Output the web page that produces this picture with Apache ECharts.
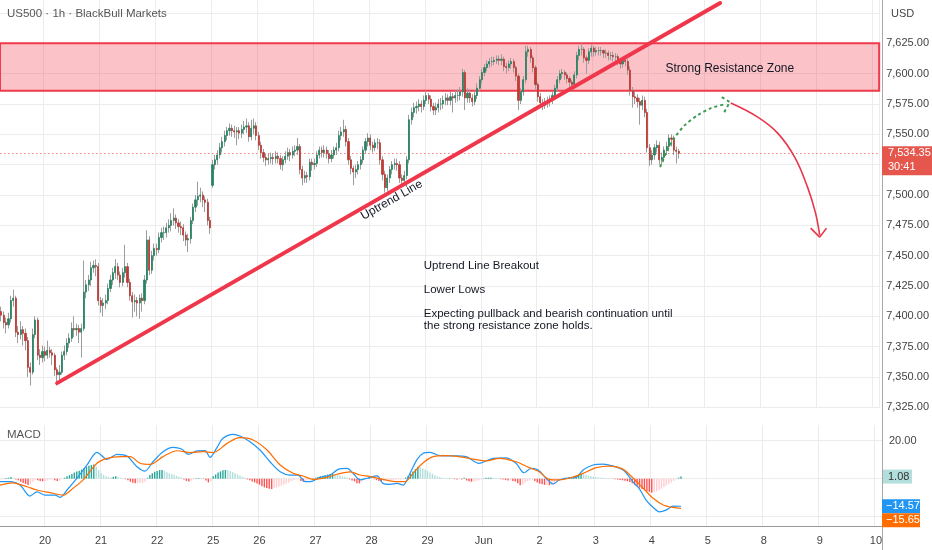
<!DOCTYPE html>
<html><head><meta charset="utf-8">
<script src="https://cdn.jsdelivr.net/npm/echarts@6/dist/echarts.min.js"></script>
<style>html,body{margin:0;padding:0;background:#fff}#c{width:932px;height:550px}</style>
</head><body><div id="c"></div>
<script>
// ---------- DATA (hourly candles: [open, close, low, high]) ----------
const may19 = [[7404,7401,7396,7408],[7401,7395,7390,7404],[7395,7393,7386,7399],[7393,7398,7390,7403],[7398,7413,7395,7417],[7413,7415,7408,7422],[7415,7387,7383,7417],[7387,7385,7378,7392],[7385,7389,7381,7396],[7389,7386,7376,7392],[7386,7380,7372,7390],[7380,7358,7350,7383],[7358,7354,7343,7362],[7354,7385,7352,7390],[7385,7397,7382,7400],[7397,7368,7364,7399],[7368,7366,7360,7373],[7366,7371,7362,7376]];
const may20 = [[7371,7368,7363,7375],[7368,7372,7365,7380],[7372,7370,7366,7375],[7370,7368,7360,7373],[7368,7356,7351,7370],[7356,7352,7343,7358],[7352,7354,7347,7360],[7354,7368,7352,7371],[7368,7371,7364,7376],[7371,7378,7368,7382],[7378,7382,7374,7386],[7382,7390,7379,7395],[7390,7389,7383,7400],[7389,7390,7384,7394],[7390,7387,7378,7393],[7387,7390,7366,7394],[7390,7420,7388,7446],[7420,7426,7415,7430],[7426,7430,7421,7434],[7430,7440,7425,7445],[7440,7442,7436,7446],[7442,7441,7433,7447],[7441,7413,7409,7444]];
const may21 = [[7413,7409,7403,7416],[7409,7411,7400,7415],[7411,7413,7406,7418],[7413,7423,7410,7427],[7423,7430,7420,7434],[7430,7436,7426,7440],[7436,7441,7431,7447],[7441,7434,7430,7444],[7434,7428,7424,7437],[7428,7436,7425,7440],[7436,7441,7432,7459],[7441,7428,7424,7444],[7428,7417,7413,7431],[7417,7412,7399,7420],[7412,7413,7404,7418],[7413,7411,7400,7416],[7411,7415,7398,7418],[7415,7413,7404,7419],[7413,7430,7410,7434],[7430,7463,7427,7471],[7463,7438,7434,7466],[7438,7450,7435,7454],[7450,7456,7446,7460]];
const may22 = [[7456,7455,7450,7460],[7455,7465,7452,7469],[7465,7469,7461,7473],[7469,7469,7463,7474],[7469,7473,7465,7477],[7473,7475,7469,7480],[7475,7479,7470,7485],[7479,7481,7475,7489],[7481,7477,7472,7484],[7477,7474,7469,7480],[7474,7473,7467,7478],[7473,7467,7462,7476],[7467,7463,7458,7470],[7463,7464,7453,7468],[7464,7479,7460,7482],[7479,7490,7476,7493],[7490,7496,7486,7500],[7496,7499,7491,7511],[7499,7500,7494,7506],[7500,7496,7490,7503],[7496,7494,7486,7499],[7494,7479,7475,7497],[7479,7473,7468,7482]];
const may25 = [[7508,7525,7506,7529],[7525,7529,7521,7533],[7529,7533,7525,7537],[7533,7539,7530,7543],[7539,7544,7535,7548],[7544,7549,7540,7553],[7549,7553,7545,7556],[7553,7555,7549,7559],[7555,7553,7548,7558],[7553,7552,7547,7557],[7552,7553,7541,7556],[7553,7551,7546,7556],[7551,7554,7547,7558],[7554,7556,7550,7561],[7556,7557,7551,7563],[7557,7548,7544,7560],[7548,7555,7545,7562],[7555,7557,7550,7563],[7557,7549,7545,7560]];
const may26 = [[7549,7541,7537,7552],[7541,7535,7530,7544],[7535,7531,7527,7538],[7531,7529,7524,7534],[7529,7530,7525,7534],[7530,7531,7526,7535],[7531,7530,7525,7534],[7530,7532,7526,7536],[7532,7530,7526,7535],[7530,7525,7521,7533],[7525,7529,7520,7532],[7529,7532,7526,7536],[7532,7535,7529,7539],[7535,7533,7528,7538],[7533,7536,7530,7540],[7536,7537,7532,7541],[7537,7540,7533,7547],[7540,7521,7517,7542],[7521,7514,7508,7524],[7514,7516,7510,7520],[7516,7515,7510,7519],[7515,7527,7512,7530],[7527,7525,7520,7530]];
const may27 = [[7525,7526,7521,7530],[7526,7533,7523,7536],[7533,7537,7530,7540],[7537,7535,7531,7540],[7535,7537,7531,7541],[7537,7534,7530,7540],[7534,7530,7526,7537],[7530,7533,7527,7537],[7533,7537,7530,7540],[7537,7539,7533,7543],[7539,7549,7536,7553],[7549,7552,7545,7556],[7552,7554,7548,7562],[7554,7544,7540,7557],[7544,7529,7525,7547],[7529,7522,7517,7532],[7522,7519,7508,7524],[7519,7521,7514,7525],[7521,7525,7517,7528],[7525,7529,7521,7532],[7529,7537,7526,7540],[7537,7544,7534,7547],[7544,7547,7540,7551]];
const may28 = [[7547,7541,7537,7550],[7541,7539,7535,7544],[7539,7543,7536,7546],[7543,7543,7538,7547],[7543,7529,7525,7546],[7529,7517,7512,7532],[7517,7506,7502,7520],[7506,7514,7503,7517],[7514,7521,7510,7524],[7521,7525,7517,7528],[7525,7526,7521,7530],[7526,7525,7520,7530],[7525,7514,7510,7528],[7514,7512,7507,7517],[7512,7516,7508,7520],[7516,7529,7513,7532],[7529,7562,7526,7566],[7562,7568,7558,7572],[7568,7572,7564,7576],[7572,7573,7567,7577],[7573,7575,7569,7579],[7575,7573,7568,7578],[7573,7578,7570,7582]];
const may29 = [[7578,7582,7575,7586],[7582,7579,7575,7584],[7579,7573,7569,7582],[7573,7570,7566,7576],[7570,7572,7566,7576],[7572,7575,7568,7579],[7575,7575,7570,7580],[7575,7578,7571,7582],[7578,7580,7574,7584],[7580,7578,7574,7583],[7578,7581,7574,7585],[7581,7580,7568,7584],[7580,7582,7576,7586],[7582,7582,7577,7587],[7582,7585,7578,7589],[7585,7601,7581,7604],[7601,7580,7570,7603],[7580,7584,7576,7588],[7584,7580,7576,7587],[7580,7577,7573,7583],[7577,7582,7574,7586],[7582,7588,7579,7592],[7588,7595,7585,7598]];
const jun1 = [[7595,7601,7592,7604],[7601,7605,7598,7608],[7605,7608,7602,7611],[7608,7610,7605,7613],[7610,7610,7606,7614],[7610,7611,7607,7614],[7611,7612,7608,7615],[7612,7611,7607,7615],[7611,7612,7607,7616],[7612,7606,7602,7614],[7606,7605,7600,7609],[7605,7608,7602,7611],[7608,7610,7604,7613],[7610,7605,7601,7612],[7605,7598,7594,7607],[7598,7578,7570,7600],[7578,7585,7575,7588],[7585,7595,7582,7598],[7595,7618,7592,7623],[7618,7620,7614,7623],[7620,7613,7609,7622],[7613,7605,7601,7615],[7605,7591,7587,7607]];
const jun2 = [[7591,7581,7577,7593],[7581,7576,7572,7584],[7576,7574,7570,7579],[7574,7576,7571,7580],[7576,7577,7572,7581],[7577,7578,7573,7582],[7578,7582,7575,7585],[7582,7588,7579,7591],[7588,7595,7585,7598],[7595,7600,7592,7603],[7600,7601,7596,7604],[7601,7599,7595,7603],[7599,7596,7592,7601],[7596,7593,7589,7598],[7593,7591,7586,7595],[7591,7599,7588,7602],[7599,7615,7596,7618],[7615,7620,7611,7623],[7620,7620,7615,7625],[7620,7613,7609,7622],[7613,7611,7600,7615],[7611,7618,7608,7621],[7618,7621,7614,7624]];
const jun3 = [[7621,7618,7614,7623],[7618,7619,7615,7622],[7619,7619,7615,7622],[7619,7619,7615,7622],[7619,7617,7613,7620],[7617,7617,7613,7620],[7617,7615,7611,7619],[7615,7615,7611,7618],[7615,7614,7610,7618],[7614,7614,7610,7617],[7614,7611,7607,7616],[7611,7608,7604,7613],[7608,7611,7605,7614],[7611,7610,7606,7613],[7610,7603,7599,7612],[7603,7586,7582,7606],[7586,7581,7572,7589],[7581,7580,7575,7585],[7580,7577,7572,7583],[7577,7574,7558,7580],[7574,7578,7570,7582],[7578,7568,7564,7581],[7568,7539,7535,7571]];
const jun4 = [[7539,7529,7524,7542],[7529,7533,7525,7537],[7533,7539,7529,7542],[7539,7541,7535,7545],[7541,7529,7525,7544],[7529,7531,7525,7535],[7531,7537,7527,7540],[7537,7540,7533,7544],[7540,7547,7536,7550],[7547,7546,7540,7550],[7546,7537,7533,7549],[7537,7536,7526,7540],[7536,7534.35,7530,7538]];

// sessions on the time axis (first one only partly visible, last ones are future)
const dayLabels  = ['', '20', '21', '22', '25', '26', '27', '28', '29', 'Jun', '2', '3', '4', '5', '8', '9', '10'];
const barsPerDay = [18, 23, 23, 23, 19, 23, 23, 23, 23, 23, 23, 23, 23, 23, 23, 23, 3];

// MACD (12,26,9): [barIndex, value]
const macdLine = [[-0.5,-1.6],[3.6,-1.6],[7.7,-3.4],[11.8,-9.2],[14.7,-7.0],[18,-8.7],[22.1,-8.7],[24.1,-9.9],[27,-6.0],[31.1,0.2],[35.2,7.2],[39.3,13.9],[43.4,10.2],[47.5,12.8],[51.6,11.9],[55.7,6.3],[59,4.0],[62.3,8.9],[66.4,14.2],[70.5,16.5],[74.2,15.5],[76.7,12.8],[80.4,14.6],[83.7,14.8],[85.7,11.2],[88.6,16.5],[91,21.3],[95.2,23.4],[98,22.5],[102.1,19.5],[106.2,15.1],[110.3,8.9],[114.5,3.6],[118.5,1.9],[121.8,1.9],[124.7,-1.6],[126.8,-1.6],[130.9,0.7],[135,1.9],[138.3,4.9],[142,5.4],[144.4,2.8],[147.3,-0.7],[150.2,0.2],[154.3,1.4],[156.7,-2.5],[159.6,-3.0],[162.5,-2.5],[164.9,-3.4],[167.8,2.8],[170.7,10.2],[173.2,13.4],[176,13.9],[180.1,12.1],[185.5,12.0],[190.8,11.6],[196.1,8.1],[201.9,10.7],[207.2,11.0],[211.3,8.1],[214.6,3.1],[217.5,5.4],[220.4,4.5],[223.6,0.2],[226.5,-2.8],[229,-0.7],[231.9,0.2],[236,0.7],[238.8,4.5],[242.9,7.2],[247,7.7],[251.2,6.6],[255.3,4.5],[257.7,1.0],[259.8,-2.5],[261.8,-5.1],[264.7,-11.3],[267.6,-15.2],[270.1,-17.5],[272.9,-16.6],[275.8,-14.5],[279,-14.57]];
const signalLine = [[-0.5,-3.4],[4.8,-2.2],[10.6,-4.3],[14.7,-6.0],[20,-7.4],[25.4,-8.7],[29.5,-5.1],[33.6,-0.7],[39.3,8.1],[43.4,10.7],[48.8,11.6],[52.9,11.6],[57,8.1],[61.1,7.5],[66.4,11.6],[72.2,14.7],[77.5,13.7],[82.8,14.2],[87,13.7],[92.7,18.6],[98,21.6],[103.4,20.4],[109.1,15.1],[114.5,7.2],[119.8,2.8],[123.9,1.4],[128,-0.4],[133.7,0.7],[137.9,2.3],[143.2,3.6],[147.3,1.9],[151.4,1.1],[156.7,-0.4],[162.5,-1.6],[165.8,-1.6],[169,2.8],[173.2,8.4],[177.3,11.6],[183,12.1],[190.8,11.0],[199,9.4],[204.4,10.7],[211.3,8.9],[216.7,5.8],[220.8,3.6],[224.9,-0.4],[229,-0.7],[233.1,0.2],[238.8,2.8],[244.2,5.8],[249.5,6.6],[255.3,4.9],[259.4,0.2],[263.5,-5.1],[267.6,-10.4],[271.7,-13.9],[275.8,-15.2],[279,-15.65]];
const macdHist = [-0.4,-0.3,0.3,0.5,0.8,0.5,-0.4,-0.8,-1.6,-2.3,-2.8,-3.4,-3.0,-1.8,-0.6,-0.8,-1.2,-1.4,
 -1.3,-1.0,-0.6,-0.4,-0.9,-1.2,-1.0,-0.3,0.5,1.2,1.8,2.5,3.2,3.8,4.2,4.8,5.6,6.2,6.8,7.2,7.5,6.4,4.5,
 3.0,2.0,1.2,0.9,0.6,0.8,1.2,0.9,0.5,0.2,-0.3,-0.9,-1.6,-2.2,-2.5,-2.4,-2.3,-2.2,-1.6,0.4,1.9,2.8,3.6,
 4.0,4.5,4.5,4.0,3.4,2.8,2.4,2.0,1.5,1.0,0.6,-0.5,-1.2,-1.5,-1.0,-0.5,0.2,0.3,0.2,-0.2,-1.0,-2.0,-1.4,
 1.2,2.2,3.2,3.8,4.4,4.6,4.5,4.0,3.4,2.8,2.2,1.6,1.0,0.4,-0.4,-0.9,-1.5,-2.0,-2.6,
 -3.2,-4.0,-4.6,-5.0,-5.4,-5.5,-5.0,-4.6,-4.2,-3.8,-3.2,-2.6,-2.0,-1.4,-0.9,-0.5,-0.4,-1.2,-1.6,-1.5,-0.9,-0.2,0.2,
 0.5,0.8,1.2,1.5,1.8,2.2,2.5,2.6,2.4,2.0,1.6,1.2,1.0,0.6,-0.4,-1.0,-1.5,-2.4,-2.5,-1.5,-0.6,0.3,0.5,
 0.4,-0.3,-0.8,-1.3,-1.6,-1.4,-1.1,-0.9,-0.8,-0.7,-0.6,-0.5,-0.4,-0.3,0.6,1.5,2.6,3.8,5.0,6.3,6.0,5.4,4.8,
 4.0,3.2,2.5,1.8,1.2,0.8,0.5,0.3,0.2,0.2,0.1,-0.3,-0.4,-0.3,-0.5,0.4,-1.0,-1.4,-1.6,-1.5,-1.3,-0.9,-0.4,
 0.2,0.4,0.5,0.5,0.4,0.3,0.2,-0.3,-0.5,-0.8,-1.0,-0.9,-1.2,-1.5,-2.4,-3.5,-3.2,-2.2,-1.4,-1.0,-0.6,-1.2,-2.0,
 -2.6,-3.0,-3.3,-3.2,-3.5,-3.4,-2.8,-2.0,-1.2,-0.5,0.4,0.5,0.8,1.0,1.2,1.6,2.2,2.5,2.4,2.0,1.6,1.3,1.0,
 0.8,0.6,0.5,0.4,0.3,0.2,0.1,-0.2,-0.3,-0.5,-0.7,-0.9,-1.1,-1.4,-1.8,-2.5,-3.2,-4.0,-4.8,-5.5,-6.0,-6.5,-7.0,
 -7.4,-7.2,-6.8,-6.0,-5.2,-4.4,-3.6,-2.8,-2.0,-1.2,-0.4,0.5,1.08];

// drawings, in [barIndex, price]
const resistanceZone = [7586, 7625];
const uptrendLine   = [[23, 7345], [296, 7658.2]];
const pullbackPath  = [[271.3,7523],[273.7,7534.5],[277.4,7547.7],[281.5,7557.6],[286.9,7565.9],[292.2,7571.6],[298.4,7575]];
const pullbackHead  = [[296.7,7580.7],[300.0,7576.6],[297.5,7567.5]];
const dropPath      = [[300.4,7575.8],[311.5,7564.2],[319.7,7551.0],[326.7,7531.2],[332.0,7506.5],[335.3,7485.1],[337.0,7466.9]];
const dropHead      = [[333.3,7472.7],[337.0,7465.3],[339.8,7472.7]];
const zoneLabelAt   = [300, 7604];
const trendLabelAt  = [160.8, 7495.8];
const noteAt        = [174, 7447];
const noteLines     = ['Uptrend Line Breakout', '', 'Lower Lows', '', 'Expecting pullback and bearish continuation until', 'the strong resistance zone holds.'];
const timerText     = '30:41';

// ---------- BUILD ----------
const candles = [].concat(may19, may20, may21, may22, may25, may26, may27, may28, may29, jun1, jun2, jun3, jun4);
const bodies = candles.map(c => [c[0], c[1], Math.min(c[0], c[1]), Math.max(c[0], c[1])]);
const categories = [];
const dayStart = new Set();
dayLabels.forEach((d, i) => {
  for (let j = 0; j < barsPerDay[i]; j++) {
    if (j === 0 && d) dayStart.add(categories.length);
    categories.push(d + '|' + j);
  }
});
const lastPrice = candles[candles.length - 1][1];
const isDayStart = (i) => dayStart.has(i);
const fmt = v => v.toLocaleString('en-US', {minimumFractionDigits: 2, maximumFractionDigits: 2});
const FONT = 'Liberation Sans';
const GRID_C = '#ececec';
const UP = '#2a8363', DOWN = '#bb3b35', WICK = '#9c9c9c';
const nCat = categories.length;

const chart = echarts.init(document.getElementById('c'), null, {renderer: 'canvas'});
const option = {
  animation: false,
  backgroundColor: '#ffffff',
  textStyle: {fontFamily: FONT},
  grid: [
    {left: 0, right: 50, top: 0, height: 407.4},
    {left: 0, right: 50, top: 425, height: 101}
  ],
  xAxis: [
    {type: 'category', gridIndex: 0, data: categories, boundaryGap: true,
     axisLine: {show: false}, axisTick: {show: false}, axisLabel: {show: false},
     splitLine: {show: true, interval: isDayStart, lineStyle: {color: GRID_C}}},
    {type: 'category', gridIndex: 1, data: categories, boundaryGap: true,
     axisLine: {show: true, onZero: false, lineStyle: {color: '#9a9a9a'}}, axisTick: {show: false},
     axisLabel: {show: true, interval: isDayStart, formatter: v => v.split('|')[0], color: '#444', fontSize: 11, fontFamily: FONT, margin: 9},
     splitLine: {show: true, interval: isDayStart, lineStyle: {color: GRID_C}}},
    {type: 'value', gridIndex: 0, min: -0.5, max: nCat - 0.5, show: false},
    {type: 'value', gridIndex: 1, min: -0.5, max: nCat - 0.5, show: false}
  ],
  yAxis: [
    {type: 'value', gridIndex: 0, position: 'right', min: 7325, max: 7660.7, interval: 25,
     axisLine: {show: false}, axisTick: {show: false},
     axisLabel: {color: '#444', fontSize: 11, fontFamily: FONT, margin: 7, showMaxLabel: false,
                 formatter: v => (Math.abs(v % 25) < 1e-6 && v <= 7640 ? fmt(v) : '')},
     splitLine: {show: true, showMaxLine: false, lineStyle: {color: GRID_C}}},
    {type: 'value', gridIndex: 1, position: 'right', min: -25, max: 28.3, interval: 5,
     axisLine: {show: false}, axisTick: {show: false},
     axisLabel: {color: '#444', fontSize: 11, fontFamily: FONT, margin: 7, formatter: v => (v === 20 ? '20.00' : '')},
     splitLine: {show: true, lineStyle: {color: ['transparent', GRID_C, 'transparent', 'transparent']}}}
  ],
  series: [
    {name: 'wicks', type: 'candlestick', xAxisIndex: 0, yAxisIndex: 0, data: candles, barWidth: 1, silent: true,
     itemStyle: {color: WICK, color0: WICK, borderColor: WICK, borderColor0: WICK, borderWidth: 1},
     markArea: {silent: true, itemStyle: {color: 'rgba(242,54,69,0.3)', borderColor: '#ee3a4a', borderWidth: 2},
                data: [[{yAxis: resistanceZone[1]}, {yAxis: resistanceZone[0]}]]}},
    {name: 'bodies', type: 'candlestick', xAxisIndex: 0, yAxisIndex: 0, data: bodies, barWidth: 1.7, silent: true,
     itemStyle: {color: UP, color0: DOWN, borderColor: UP, borderColor0: DOWN, borderWidth: 0.8}},
    {name: 'uptrend', type: 'line', xAxisIndex: 2, yAxisIndex: 0, data: uptrendLine, symbol: 'none', silent: true, z: 5,
     lineStyle: {color: '#f0364a', width: 4, cap: 'round'},
     markLine: {silent: true, symbol: 'none', label: {show: false}, z: 1,
                lineStyle: {type: [1.5, 2.5], color: '#f08080', width: 1}, data: [{yAxis: lastPrice}]}},
    {name: 'pullback', type: 'line', xAxisIndex: 2, yAxisIndex: 0, data: pullbackPath, smooth: 0.3, symbol: 'none', silent: true, z: 5,
     lineStyle: {color: '#3d9a50', width: 2, type: [3, 3]}},
    {name: 'pullbackHead', type: 'line', xAxisIndex: 2, yAxisIndex: 0, data: pullbackHead, symbol: 'none', silent: true, z: 5,
     lineStyle: {color: '#3d9a50', width: 2, type: [3, 3]}},
    {name: 'drop', type: 'line', xAxisIndex: 2, yAxisIndex: 0, data: dropPath, smooth: 0.4, symbol: 'none', silent: true, z: 5,
     lineStyle: {color: '#e8364a', width: 1.6}},
    {name: 'dropHead', type: 'line', xAxisIndex: 2, yAxisIndex: 0, data: dropHead, symbol: 'none', silent: true, z: 5,
     lineStyle: {color: '#e8364a', width: 1.6}},
    {name: 'hist', type: 'bar', xAxisIndex: 1, yAxisIndex: 1, data: macdHist, barWidth: 1.4, silent: true,
     itemStyle: {color: p => {
       const v = macdHist[p.dataIndex];
       const prev = p.dataIndex > 0 ? macdHist[p.dataIndex - 1] : v;
       if (v >= 0) return v >= prev ? '#26a69a' : '#b2dfdb';
       return v < prev ? '#ff5252' : '#ffcdd2';
     }}},
    {name: 'macd', type: 'line', xAxisIndex: 3, yAxisIndex: 1, data: macdLine, smooth: 0.3, symbol: 'none', silent: true, z: 4,
     lineStyle: {color: '#2196f3', width: 1.2}},
    {name: 'signal', type: 'line', xAxisIndex: 3, yAxisIndex: 1, data: signalLine, smooth: 0.3, symbol: 'none', silent: true, z: 4,
     lineStyle: {color: '#ff6d00', width: 1.2}}
  ]
};
chart.setOption(option);

// ---------- annotations placed through the chart's own scales ----------
const toPx = pt => chart.convertToPixel({seriesIndex: 2}, pt);
const yPrice = v => chart.convertToPixel({yAxisIndex: 0}, v);
const yMacd = v => chart.convertToPixel({yAxisIndex: 1}, v);
const gridRight = 932 - 50;

const a = toPx(uptrendLine[0]), b = toPx(uptrendLine[1]);
const angle = Math.atan2(a[1] - b[1], b[0] - a[0]);
const tl = toPx(trendLabelAt), zl = toPx(zoneLabelAt), nt = toPx(noteAt);
const yLast = yPrice(lastPrice);

const lastMacd = macdLine[macdLine.length - 1][1];
const lastSignal = signalLine[signalLine.length - 1][1];
const lastHist = macdHist[macdHist.length - 1];
const yH = yMacd(lastHist);
let yM = yMacd(lastMacd);
let yS = yMacd(lastSignal);
const BH = 14;
if (yM - BH / 2 < yH + BH / 2) yM = yH + BH;
if (yS - BH / 2 < yM + BH / 2) yS = yM + BH;
const minus = v => (v < 0 ? '\u2212' + Math.abs(v).toFixed(2) : v.toFixed(2));

const txt = (x, y, text, o) => Object.assign({type: 'text', x, y, z: 100, silent: true,
  style: Object.assign({text, fontFamily: FONT, fontSize: 11, fill: '#131722', align: 'left', verticalAlign: 'middle'}, o || {})});
const box = (x, y, w, h, fill) => ({type: 'rect', z: 99, silent: true, shape: {x, y, width: w, height: h}, style: {fill}});

chart.setOption({graphic: [
  {type: 'line', z: 98, silent: true, shape: {x1: gridRight + 0.5, y1: 0, x2: gridRight + 0.5, y2: 550}, style: {stroke: '#a8a8a8', lineWidth: 1}},
  txt(7, 14, 'US500 \u00b7 1h \u00b7 BlackBull Markets', {fill: '#555', fontSize: 11.5}),
  txt(891, 14, 'USD', {fill: '#444'}),
  txt(7, 435, 'MACD', {fill: '#555', fontSize: 11.5}),
  txt(zl[0], zl[1], 'Strong Resistance Zone', {align: 'center', fontSize: 12}),
  Object.assign(txt(tl[0], tl[1], 'Uptrend Line', {align: 'center', fontSize: 12}), {rotation: angle}),
  txt(nt[0], nt[1], noteLines.join('\n'), {verticalAlign: 'top', fontSize: 11.5, lineHeight: 12}),
  box(gridRight, yLast - 7, 50, 29, '#e5574d'),
  txt(gridRight + 6, yLast, fmt(lastPrice), {fill: '#fff'}),
  txt(gridRight + 6, yLast + 14, timerText, {fill: '#fff'}),
  box(gridRight + 1, yH - BH / 2, 29, BH, '#b2dfdb'),
  txt(gridRight + 6, yH, minus(lastHist), {fill: '#333'}),
  box(gridRight, yM - BH / 2, 38, BH, '#2196f3'),
  txt(gridRight + 4, yM, minus(lastMacd), {fill: '#fff'}),
  box(gridRight, yS - BH / 2, 38, BH, '#ff6d00'),
  txt(gridRight + 4, yS, minus(lastSignal), {fill: '#fff'})
]});
</script>
</body></html>
